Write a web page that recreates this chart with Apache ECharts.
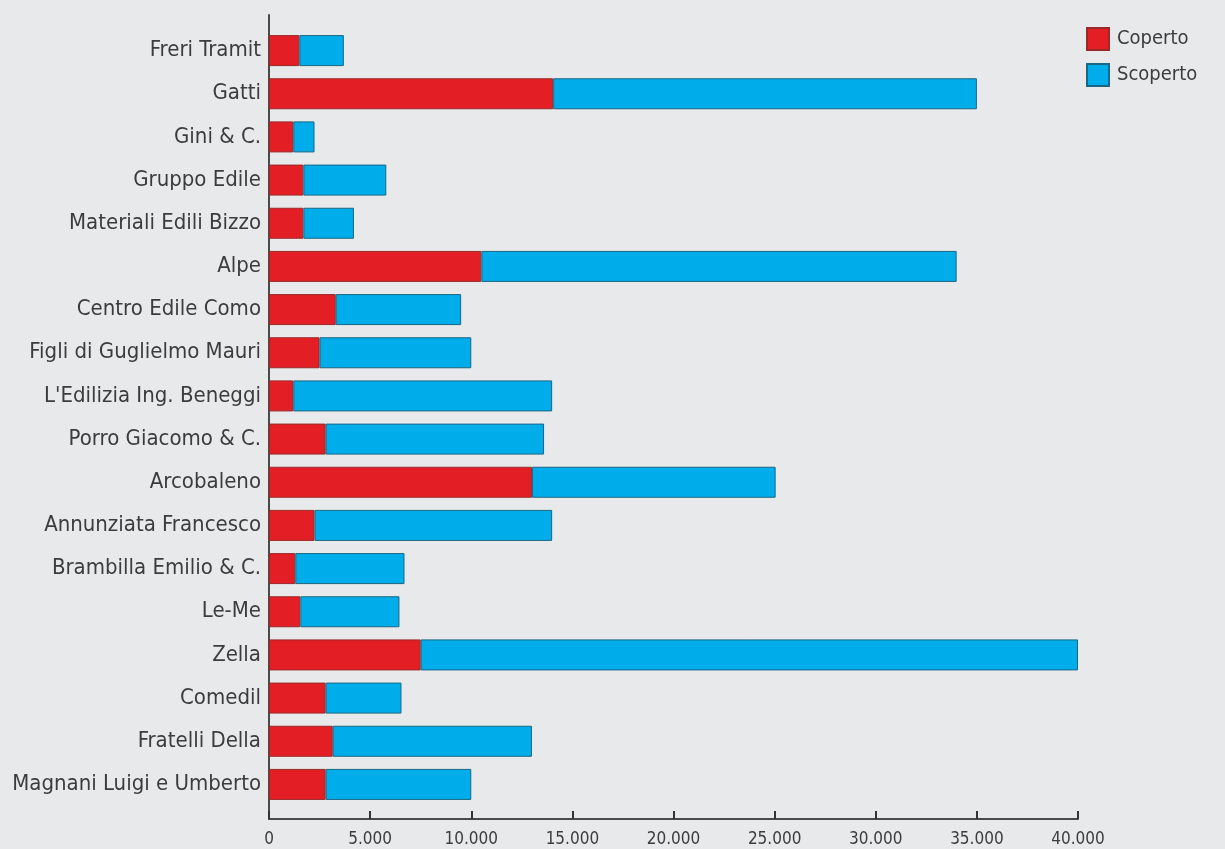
<!DOCTYPE html>
<html>
<head>
<meta charset="utf-8">
<script src="https://cdn.jsdelivr.net/npm/echarts@6/dist/echarts.min.js"></script>
<style>
html,body{margin:0;padding:0;background:#e7e9ea;}
#c{width:1225px;height:849px;}
</style>
</head>
<body>
<div id="c"></div>
<script>
const categories = ["Freri Tramit","Gatti","Gini & C.","Gruppo Edile","Materiali Edili Bizzo","Alpe","Centro Edile Como","Figli di Guglielmo Mauri","L'Edilizia Ing. Beneggi","Porro Giacomo & C.","Arcobaleno","Annunziata Francesco","Brambilla Emilio & C.","Le-Me","Zella","Comedil","Fratelli Della","Magnani Luigi e Umberto"];
const coperto  = [1500,14050,1200,1700,1700,10500,3300,2500,1200,2800,13000,2250,1300,1550,7500,2800,3150,2800];
const totale   = [3700,35000,2250,5800,4200,34000,9500,10000,14000,13600,25050,14000,6700,6450,40000,6550,13000,10000];
const scoperto = totale.map((t,i)=>t-coperto[i]);
const xTicks = [0,5000,10000,15000,20000,25000,30000,35000,40000];

const FONT = "'Liberation Sans Narrow','DejaVu Sans Condensed',sans-serif";
const TXT = '#3c3c3c';
const chart = echarts.init(document.getElementById('c'));
const fmt = v => v===0 ? '0' : String(v).replace(/\B(?=(\d{3})+(?!\d))/g,'.');
chart.setOption({
  backgroundColor:'#e7e9ea',
  animation:false,
  legend:{
    orient:'vertical', left:1086, top:27, padding:0, itemWidth:22, itemHeight:22, itemGap:12,
    icon:'rect',
    textStyle:{fontFamily:FONT,fontSize:20,color:TXT,padding:[0,0,0,3]},
    data:['Coperto','Scoperto']
  },
  grid:[
    {left:269,right:147,top:15,bottom:30},
    {left:269,right:147,top:29,bottom:43}
  ],
  xAxis:[
    {gridIndex:0,type:'value',min:0,max:40000,interval:5000,
     axisLine:{show:true,lineStyle:{color:'#4a4a4a',width:2}},
     axisTick:{show:true,inside:true,length:8,lineStyle:{color:'#333',width:2}},
     splitLine:{show:false},
     axisLabel:{formatter:fmt,fontFamily:FONT,fontSize:17,color:TXT,margin:12}},
    {gridIndex:1,type:'value',min:0,max:40000,show:false}
  ],
  yAxis:[
    {gridIndex:0,type:'value',min:0,max:1,
     axisLine:{show:true,lineStyle:{color:'#4a4a4a',width:2}},
     axisTick:{show:false},axisLabel:{show:false},splitLine:{show:false}},
    {gridIndex:1,type:'category',inverse:true,data:categories,
     axisLine:{show:false},axisTick:{show:false},
     axisLabel:{fontFamily:FONT,fontSize:22,color:TXT,margin:8}}
  ],
  series:[
    {name:'Coperto',type:'bar',stack:'t',xAxisIndex:1,yAxisIndex:1,barWidth:31,data:coperto,
     itemStyle:{color:'#e31f25',borderColor:'#9a2a2a',borderWidth:1}},
    {name:'Scoperto',type:'bar',stack:'t',xAxisIndex:1,yAxisIndex:1,barWidth:31,data:scoperto,
     itemStyle:{color:'#00adeb',borderColor:'#1b6683',borderWidth:1}}
  ]
});
</script>
</body>
</html>
